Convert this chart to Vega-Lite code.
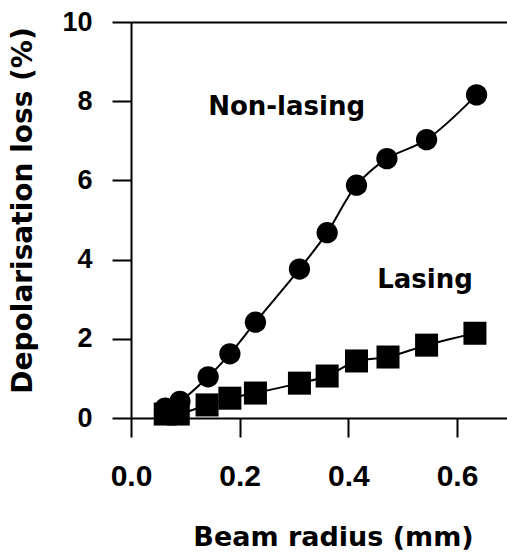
{
  "$schema": "https://vega.github.io/schema/vega-lite/v6.json",
  "width": 376,
  "height": 396,
  "autosize": {"type": "none"},
  "padding": {"left": 131, "top": 22, "right": 0, "bottom": 139},
  "background": "white",
  "config": {
    "view": {"stroke": null},
    "axis": {
      "grid": false,
      "domainColor": "black",
      "domainWidth": 2,
      "tickColor": "black",
      "tickWidth": 2,
      "tickSize": 19,
      "labelColor": "black",
      "labelFont": "Liberation Sans",
      "labelFontWeight": "bold",
      "titleFont": "DejaVu Sans",
      "titleFontWeight": "bold",
      "titleColor": "black"
    }
  },
  "datasets": {
    "points": [
      {"series": "Non-lasing", "radius": 0.063, "loss": 0.25},
      {"series": "Non-lasing", "radius": 0.09, "loss": 0.42},
      {"series": "Non-lasing", "radius": 0.142, "loss": 1.04},
      {"series": "Non-lasing", "radius": 0.182, "loss": 1.62},
      {"series": "Non-lasing", "radius": 0.229, "loss": 2.42},
      {"series": "Non-lasing", "radius": 0.31, "loss": 3.76},
      {"series": "Non-lasing", "radius": 0.361, "loss": 4.68},
      {"series": "Non-lasing", "radius": 0.415, "loss": 5.88},
      {"series": "Non-lasing", "radius": 0.471, "loss": 6.55},
      {"series": "Non-lasing", "radius": 0.544, "loss": 7.03},
      {"series": "Non-lasing", "radius": 0.636, "loss": 8.16},
      {"series": "Lasing", "radius": 0.063, "loss": 0.1},
      {"series": "Lasing", "radius": 0.087, "loss": 0.1},
      {"series": "Lasing", "radius": 0.14, "loss": 0.33},
      {"series": "Lasing", "radius": 0.182, "loss": 0.5},
      {"series": "Lasing", "radius": 0.229, "loss": 0.63},
      {"series": "Lasing", "radius": 0.31, "loss": 0.88},
      {"series": "Lasing", "radius": 0.361, "loss": 1.06},
      {"series": "Lasing", "radius": 0.415, "loss": 1.44},
      {"series": "Lasing", "radius": 0.473, "loss": 1.54},
      {"series": "Lasing", "radius": 0.544, "loss": 1.84},
      {"series": "Lasing", "radius": 0.633, "loss": 2.14}
    ],
    "labels": [
      {"label": "Non-lasing", "radius": 0.142, "loss": 7.65},
      {"label": "Lasing", "radius": 0.453, "loss": 3.28}
    ]
  },
  "layer": [
    {
      "data": {"name": "points"},
      "mark": {"type": "line", "interpolate": "catmull-rom", "color": "black", "strokeWidth": 2},
      "encoding": {
        "x": {
          "field": "radius", "type": "quantitative",
          "scale": {"domain": [0, 0.692], "nice": false, "zero": false},
          "axis": {
            "values": [0, 0.2, 0.4, 0.6], "format": ".1f",
            "labelFontSize": 30, "labelPadding": 24, "labelFlush": false, "labelOverlap": false,
            "title": "Beam radius (mm)", "titleFontSize": 27,
            "titleX": 202, "titleY": 127, "titleAlign": "center", "titleBaseline": "alphabetic"
          }
        },
        "y": {
          "field": "loss", "type": "quantitative",
          "scale": {"domain": [0, 10], "nice": false},
          "axis": {
            "values": [0, 2, 4, 6, 8, 10],
            "labelFontSize": 27, "labelPadding": 20,
            "title": "Depolarisation loss (%)", "titleFontSize": 28,
            "titleX": -108, "titleY": 188, "titleAngle": 270,
            "titleAlign": "center", "titleBaseline": "middle"
          }
        },
        "detail": {"field": "series", "type": "nominal"}
      }
    },
    {
      "data": {"name": "points"},
      "mark": {"type": "point", "filled": true, "color": "black", "opacity": 1},
      "encoding": {
        "x": {"field": "radius", "type": "quantitative", "scale": {"domain": [0, 0.692], "nice": false, "zero": false}, "axis": null},
        "y": {"field": "loss", "type": "quantitative", "scale": {"domain": [0, 10], "nice": false}, "axis": null},
        "shape": {"field": "series", "type": "nominal", "scale": {"domain": ["Non-lasing", "Lasing"], "range": ["circle", "square"]}, "legend": null},
        "size": {"field": "series", "type": "nominal", "scale": {"domain": ["Non-lasing", "Lasing"], "range": [452, 530]}, "legend": null}
      }
    },
    {
      "data": {"name": "labels"},
      "mark": {"type": "text", "font": "DejaVu Sans", "fontWeight": "bold", "fontSize": 26, "align": "left", "baseline": "alphabetic", "color": "black"},
      "encoding": {
        "x": {
          "field": "radius", "type": "quantitative",
          "scale": {"domain": [0, 0.692], "nice": false, "zero": false},
          "axis": {"orient": "top", "labels": false, "ticks": false, "domain": true, "title": null, "grid": false}
        },
        "y": {"field": "loss", "type": "quantitative", "scale": {"domain": [0, 10], "nice": false}, "axis": null},
        "text": {"field": "label", "type": "nominal"}
      }
    }
  ],
  "resolve": {"axis": {"x": "independent", "y": "independent"}}
}
